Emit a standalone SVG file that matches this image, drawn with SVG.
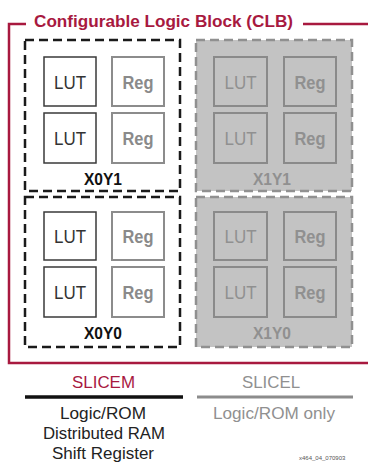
<svg xmlns="http://www.w3.org/2000/svg" width="368" height="463" viewBox="0 0 368 463">
<style>
  text { font-family: "Liberation Sans", Arial, sans-serif; }
  .frame { fill: none; stroke: #a8193f; stroke-width: 2.5; }
  .title { fill: #a8193f; font-weight: bold; font-size: 17px; }
  .sliceM { fill: #ffffff; stroke: #1a1a1a; stroke-width: 2.5; stroke-dasharray: 9 5; }
  .sliceL { fill: #c3c3c3; stroke: #909090; stroke-width: 2.5; stroke-dasharray: 9 5; }
  .lut { fill: #ffffff; stroke: #3a3a3a; stroke-width: 1.5; }
  .reg { fill: #ffffff; stroke: #8c8c8c; stroke-width: 2; }
  .gbox { fill: #c3c3c3; stroke: #8a8a8a; stroke-width: 2; }
  .tlut { fill: #333333; font-size: 19px; text-anchor: middle; }
  .treg { fill: #8a8a8a; font-size: 19px; font-weight: bold; text-anchor: middle; }
  .tg { fill: #909090; font-size: 19px; text-anchor: middle; }
  .tgb { fill: #909090; font-size: 19px; font-weight: bold; text-anchor: middle; }
  .lblM { fill: #111111; font-size: 17px; font-weight: bold; text-anchor: middle; }
  .lblL { fill: #909090; font-size: 17px; font-weight: bold; text-anchor: middle; }
  .cap { font-size: 16.5px; text-anchor: middle; }
</style>

<g id="clb">
  <path class="frame" d="M26 24 H9 V363 H368 M303 24 H368"/>
  <text class="title" x="34" y="27" textLength="259" lengthAdjust="spacingAndGlyphs">Configurable Logic Block (CLB)</text>
</g>

<g id="X0Y1">
  <rect class="sliceM" x="25" y="40" width="155" height="151"/>
  <rect class="lut" x="44" y="57" width="52" height="49"/>
  <text class="tlut" x="70" y="89" textLength="32" lengthAdjust="spacingAndGlyphs">LUT</text>
  <rect class="reg" x="112" y="57" width="52" height="49"/>
  <text class="treg" x="138" y="89" textLength="31" lengthAdjust="spacingAndGlyphs">Reg</text>
  <rect class="lut" x="44" y="113" width="52" height="50"/>
  <text class="tlut" x="70" y="145" textLength="32" lengthAdjust="spacingAndGlyphs">LUT</text>
  <rect class="reg" x="112" y="113" width="52" height="50"/>
  <text class="treg" x="138" y="145" textLength="31" lengthAdjust="spacingAndGlyphs">Reg</text>
  <text class="lblM" x="103" y="185" textLength="38" lengthAdjust="spacingAndGlyphs">X0Y1</text>
</g>

<g id="X0Y0">
  <rect class="sliceM" x="25" y="197" width="155" height="150"/>
  <rect class="lut" x="44" y="212" width="52" height="48"/>
  <text class="tlut" x="70" y="243" textLength="32" lengthAdjust="spacingAndGlyphs">LUT</text>
  <rect class="reg" x="112" y="212" width="52" height="48"/>
  <text class="treg" x="138" y="243" textLength="31" lengthAdjust="spacingAndGlyphs">Reg</text>
  <rect class="lut" x="44" y="267" width="52" height="50"/>
  <text class="tlut" x="70" y="299" textLength="32" lengthAdjust="spacingAndGlyphs">LUT</text>
  <rect class="reg" x="112" y="267" width="52" height="50"/>
  <text class="treg" x="138" y="299" textLength="31" lengthAdjust="spacingAndGlyphs">Reg</text>
  <text class="lblM" x="103" y="339" textLength="38" lengthAdjust="spacingAndGlyphs">X0Y0</text>
</g>

<g id="X1Y1">
  <rect class="sliceL" x="196" y="40" width="156" height="151"/>
  <rect class="gbox" x="214" y="57" width="53" height="49"/>
  <text class="tg" x="240.5" y="89" textLength="32" lengthAdjust="spacingAndGlyphs">LUT</text>
  <rect class="gbox" x="284" y="57" width="52" height="49"/>
  <text class="tgb" x="310" y="89" textLength="31" lengthAdjust="spacingAndGlyphs">Reg</text>
  <rect class="gbox" x="214" y="113" width="53" height="50"/>
  <text class="tg" x="240.5" y="145" textLength="32" lengthAdjust="spacingAndGlyphs">LUT</text>
  <rect class="gbox" x="284" y="113" width="52" height="50"/>
  <text class="tgb" x="310" y="145" textLength="31" lengthAdjust="spacingAndGlyphs">Reg</text>
  <text class="lblL" x="272" y="185" textLength="38" lengthAdjust="spacingAndGlyphs">X1Y1</text>
</g>

<g id="X1Y0">
  <rect class="sliceL" x="196" y="197" width="156" height="150"/>
  <rect class="gbox" x="214" y="212" width="53" height="48"/>
  <text class="tg" x="240.5" y="243" textLength="32" lengthAdjust="spacingAndGlyphs">LUT</text>
  <rect class="gbox" x="284" y="212" width="52" height="48"/>
  <text class="tgb" x="310" y="243" textLength="31" lengthAdjust="spacingAndGlyphs">Reg</text>
  <rect class="gbox" x="214" y="267" width="53" height="50"/>
  <text class="tg" x="240.5" y="299" textLength="32" lengthAdjust="spacingAndGlyphs">LUT</text>
  <rect class="gbox" x="284" y="267" width="52" height="50"/>
  <text class="tgb" x="310" y="299" textLength="31" lengthAdjust="spacingAndGlyphs">Reg</text>
  <text class="lblL" x="272" y="339" textLength="38" lengthAdjust="spacingAndGlyphs">X1Y0</text>
</g>

<g id="slicem-legend">
  <text class="cap" x="103.5" y="388" fill="#a8193f" textLength="63" lengthAdjust="spacingAndGlyphs" style="font-size:17px">SLICEM</text>
  <line x1="25" y1="397" x2="183" y2="397" stroke="#111111" stroke-width="3.5"/>
  <text class="cap" x="103" y="419" fill="#222222" textLength="86" lengthAdjust="spacingAndGlyphs">Logic/ROM</text>
  <text class="cap" x="104" y="439" fill="#222222" textLength="122" lengthAdjust="spacingAndGlyphs">Distributed RAM</text>
  <text class="cap" x="103" y="458.5" fill="#222222" textLength="102" lengthAdjust="spacingAndGlyphs">Shift Register</text>
</g>

<g id="slicel-legend">
  <text class="cap" x="271" y="388" fill="#909090" textLength="58" lengthAdjust="spacingAndGlyphs" style="font-size:17px">SLICEL</text>
  <line x1="197" y1="397" x2="353" y2="397" stroke="#8c8c8c" stroke-width="3"/>
  <text class="cap" x="274" y="419" fill="#909090" textLength="122" lengthAdjust="spacingAndGlyphs">Logic/ROM only</text>
</g>

<text x="299" y="460" fill="#555555" font-size="6">x464_04_070903</text>
</svg>
